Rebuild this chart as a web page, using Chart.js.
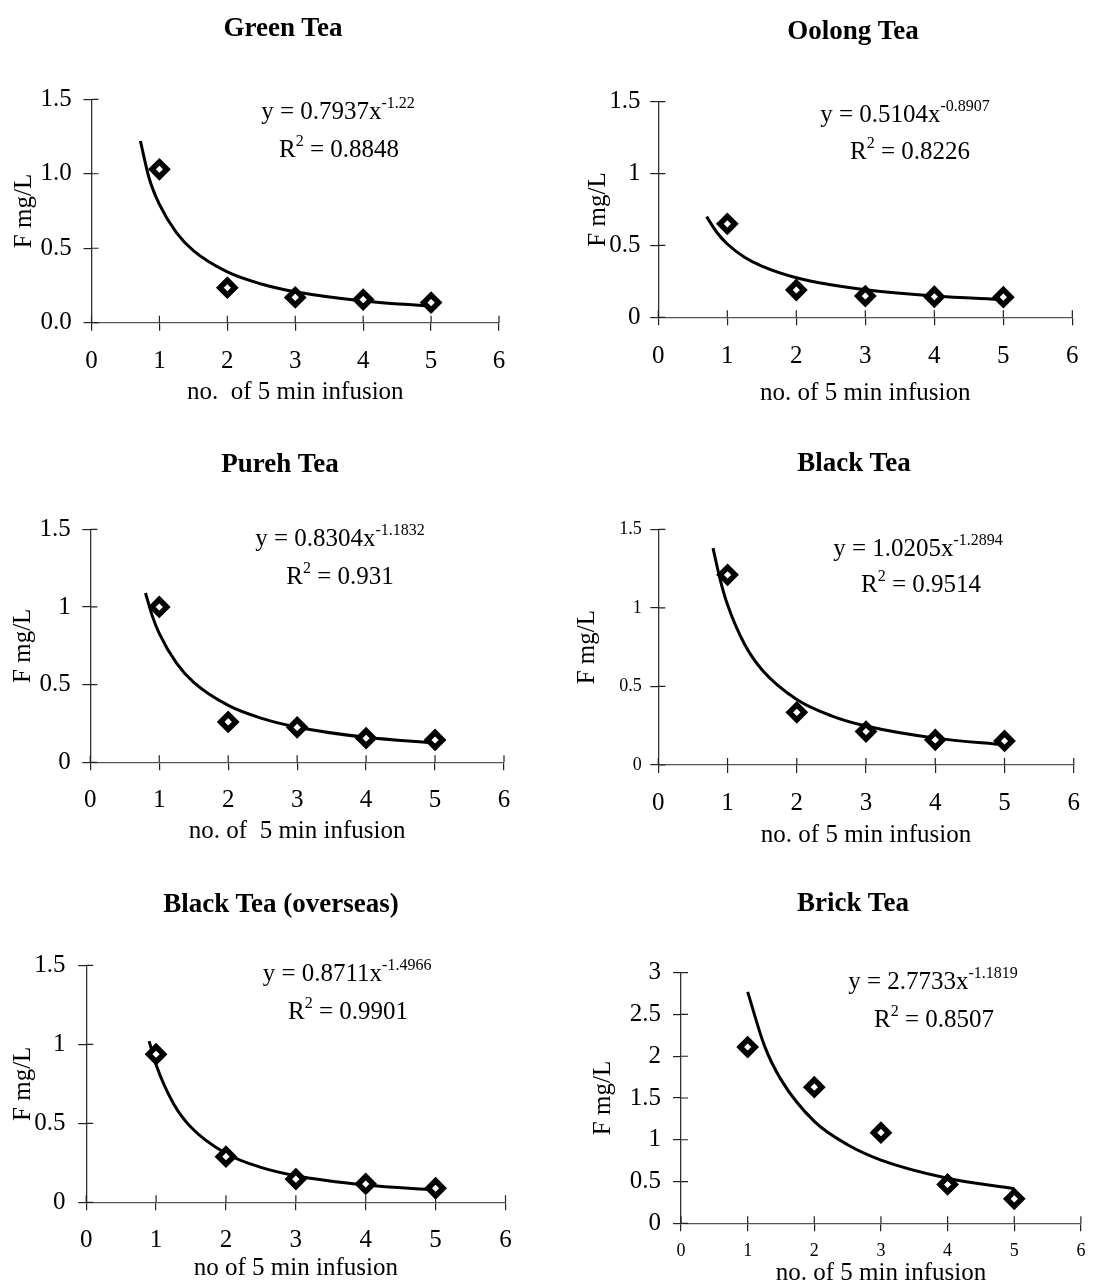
<!DOCTYPE html>
<html>
<head>
<meta charset="utf-8">
<script src="https://cdn.jsdelivr.net/npm/chart.js@4.4.1/dist/chart.umd.min.js"></script>
<style>
body { margin: 0; background: #fff; width: 1095px; height: 1288px; position: relative; overflow: hidden;
       font-family: "Liberation Serif", "Times New Roman", serif; color: #000; }
canvas { position: absolute; }
.txt { position: absolute; transform: translate(-50%, -50%); white-space: nowrap; line-height: 1; }
.title { font-weight: bold; font-size: 27px; }
.eq { font-size: 25px; }
.sup { font-size: 16px; position: relative; top: -11px; }
</style>
</head>
<body>
<script>
// x axis ticks and infusion number of each measured point
const xTicks = [0, 1, 2, 3, 4, 5, 6];
const infusions = [1, 2, 3, 4, 5];

// measured F (mg/L) per infusion
const greenTea = [1.03, 0.235, 0.17, 0.155, 0.135];
const oolongTea = [0.65, 0.19, 0.148, 0.143, 0.14];
const purehTea = [1.0, 0.26, 0.225, 0.155, 0.144];
const blackTea = [1.21, 0.335, 0.213, 0.16, 0.153];
const blackOverseas = [0.937, 0.289, 0.147, 0.116, 0.089];
const brickTea = [2.11, 1.63, 1.085, 0.465, 0.293];

// power trend lines
const greenFitX = [0.72, 0.85, 1, 1.25, 1.5, 2, 2.5, 3, 4, 5];
const greenFitY = [1.22, 0.968, 0.794, 0.605, 0.484, 0.341, 0.26, 0.208, 0.146, 0.111];
const oolongFitX = [0.7, 0.85, 1, 1.25, 1.5, 2, 2.5, 3, 4, 5];
const oolongFitY = [0.70, 0.59, 0.51, 0.418, 0.356, 0.275, 0.226, 0.192, 0.148, 0.122];
const purehFitX = [0.8, 0.9, 1, 1.25, 1.5, 2, 2.5, 3, 4, 5];
const purehFitY = [1.09, 0.941, 0.83, 0.638, 0.514, 0.366, 0.281, 0.226, 0.161, 0.124];
const blackFitX = [0.79, 0.9, 1, 1.25, 1.5, 2, 2.5, 3, 4, 5];
const blackFitY = [1.38, 1.169, 1.02, 0.765, 0.605, 0.417, 0.313, 0.248, 0.171, 0.128];
const overseasFitX = [0.9, 1, 1.25, 1.5, 2, 2.5, 3, 4, 5];
const overseasFitY = [1.02, 0.871, 0.624, 0.475, 0.309, 0.221, 0.168, 0.109, 0.078];
const brickFitX = [1, 1.25, 1.5, 2, 2.5, 3, 4, 5];
const brickFitY = [2.77, 2.13, 1.72, 1.22, 0.94, 0.757, 0.539, 0.414];

// y ticks
const yTicksLow = [0, 0.5, 1, 1.5];
const yTicksBrick = [0, 0.5, 1, 1.5, 2, 2.5, 3];

const titles = ['Green Tea', 'Oolong Tea', 'Pureh Tea', 'Black Tea', 'Black Tea (overseas)', 'Brick Tea'];
const coefs = ['0.7937', '0.5104', '0.8304', '1.0205', '0.8711', '2.7733'];
const powers = ['-1.22', '-0.8907', '-1.1832', '-1.2894', '-1.4966', '-1.1819'];
const rSquared = ['0.8848', '0.8226', '0.931', '0.9514', '0.9901', '0.8507'];
const xTitles = ['no.  of 5 min infusion', 'no. of 5 min infusion', 'no. of  5 min infusion',
                 'no. of 5 min infusion', 'no of 5 min infusion', 'no. of 5 min infusion'];
const yTitle = 'F mg/L';

const series = [greenTea, oolongTea, purehTea, blackTea, blackOverseas, brickTea];
const fitX = [greenFitX, oolongFitX, purehFitX, blackFitX, overseasFitX, brickFitX];
const fitY = [greenFitY, oolongFitY, purehFitY, blackFitY, overseasFitY, brickFitY];
const yTicks = [yTicksLow, yTicksLow, yTicksLow, yTicksLow, yTicksLow, yTicksBrick];

// page geometry of each panel
const layouts = [
  { box: {x: 0, y: 0, w: 548, h: 425}, area: {L: 91.5, R: 499, T: 99.3, B: 322.7}, yFont: 25, xFont: 25, fixed: true,
    yTickRight: 71.7, xTickY: 361.7, yTitleX: 24, xTitleY: 392, title: [283, 27], eq: [338, 110], r2: [339, 148] },
  { box: {x: 548, y: 0, w: 547, h: 425}, area: {L: 658.3, R: 1080.5, T: 101.7, B: 317.3}, yFont: 25, xFont: 25,
    yTickRight: 640.5, xTickY: 356.7, yTitleX: 598, xTitleY: 393, title: [853, 30], eq: [905, 113], r2: [910, 150] },
  { box: {x: 0, y: 425, w: 548, h: 440}, area: {L: 90.3, R: 504, T: 529.3, B: 762.3}, yFont: 25, xFont: 25,
    yTickRight: 70.7, xTickY: 800, yTitleX: 23, xTitleY: 831.7, title: [280, 463], eq: [340, 536.7], r2: [340, 575] },
  { box: {x: 548, y: 425, w: 547, h: 440}, area: {L: 658.3, R: 1088, T: 529.3, B: 765}, yFont: 18, xFont: 25,
    yTickRight: 641.7, xTickY: 803, yTitleX: 587, xTitleY: 835, title: [854, 461.7], eq: [918, 546.7], r2: [921, 583.3] },
  { box: {x: 0, y: 865, w: 548, h: 423}, area: {L: 86.2, R: 505.5, T: 965.3, B: 1202.3}, yFont: 25, xFont: 25,
    yTickRight: 65.5, xTickY: 1240, yTitleX: 23, xTitleY: 1268, title: [281, 903], eq: [347, 971.7], r2: [348, 1010] },
  { box: {x: 548, y: 865, w: 547, h: 423}, area: {L: 681, R: 1089, T: 972.7, B: 1223.3}, yFont: 25, xFont: 18,
    yTickRight: 661, xTickY: 1251.7, yTitleX: 603, xTitleY: 1273, title: [853, 901.7], eq: [933, 980], r2: [934, 1018.3] }
];

const serif = '"Liberation Serif", "Times New Roman", serif';
const TL = 8;

// small ticks that cross into the plot, like the original axes
const crossTicks = {
  id: 'crossTicks',
  beforeDatasetsDraw(chart) {
    const {ctx, chartArea: a, scales: {x, y}} = chart;
    ctx.save();
    ctx.strokeStyle = '#222';
    ctx.lineWidth = 1.2;
    ctx.beginPath();
    x.ticks.forEach(t => { const px = x.getPixelForValue(t.value); ctx.moveTo(px, a.bottom); ctx.lineTo(px, a.bottom - 7); });
    y.ticks.forEach(t => { const py = y.getPixelForValue(t.value); ctx.moveTo(a.left, py); ctx.lineTo(a.left + 7, py); });
    ctx.stroke();
    ctx.restore();
  }
};

function addText(cls, pos, html) {
  const d = document.createElement('div');
  d.className = 'txt ' + cls;
  d.style.left = pos[0] + 'px';
  d.style.top = pos[1] + 'px';
  d.innerHTML = html;
  document.body.appendChild(d);
}

function makePanel(i) {
  const g = layouts[i];
  const cv = document.createElement('canvas');
  cv.width = g.box.w;
  cv.height = g.box.h;
  cv.style.left = g.box.x + 'px';
  cv.style.top = g.box.y + 'px';
  document.body.appendChild(cv);

  const ticks = yTicks[i];
  new Chart(cv, {
    type: 'scatter',
    data: {
      datasets: [
        {
          data: infusions.map((x, k) => ({x: x, y: series[i][k]})),
          pointStyle: 'rectRot',
          pointRadius: 7.5,
          pointBorderWidth: 5.5,
          pointBorderColor: '#000',
          pointBackgroundColor: '#fff'
        },
        {
          data: fitX[i].map((x, k) => ({x: x, y: fitY[i][k]})),
          showLine: true,
          pointRadius: 0,
          borderColor: '#000',
          borderWidth: 3,
          cubicInterpolationMode: 'monotone',
          fill: false
        }
      ]
    },
    options: {
      responsive: false,
      animation: false,
      events: [],
      layout: { padding: { left: 0, top: g.area.T - g.box.y, right: g.box.x + g.box.w - g.area.R, bottom: 0 } },
      plugins: { legend: { display: false }, tooltip: { enabled: false } },
      scales: {
        x: {
          type: 'linear', min: 0, max: 6,
          afterBuildTicks: s => { s.ticks = xTicks.map(v => ({value: v})); },
          afterFit: s => { s.height = g.box.y + g.box.h - g.area.B; },
          grid: { drawOnChartArea: false, tickLength: TL, color: '#222', lineWidth: 1.2 },
          border: { color: '#555', width: 1.3 },
          ticks: { color: '#000', font: { family: serif, size: g.xFont },
                   padding: g.xTickY - g.area.B - TL - g.xFont * 0.6, maxRotation: 0 },
          title: { display: true, text: xTitles[i], color: '#000', font: { family: serif, size: 25 },
                   padding: { top: 0, bottom: g.box.y + g.box.h - g.xTitleY - 15 } }
        },
        y: {
          min: 0, max: ticks[ticks.length - 1],
          afterBuildTicks: s => { s.ticks = ticks.map(v => ({value: v})); },
          afterFit: s => { s.width = g.area.L - g.box.x; },
          grid: { drawOnChartArea: false, tickLength: TL, color: '#222', lineWidth: 1.2 },
          border: { color: '#333', width: 1.3 },
          ticks: { color: '#000', font: { family: serif, size: g.yFont },
                   padding: g.area.L - TL - g.yTickRight,
                   callback: v => g.fixed ? v.toFixed(1) : String(v) },
          title: { display: true, text: yTitle, color: '#000', font: { family: serif, size: 25 },
                   padding: { top: g.yTitleX - g.box.x - 15, bottom: 0 } }
        }
      }
    },
    plugins: [crossTicks]
  });

  addText('title', g.title, titles[i]);
  addText('eq', g.eq, 'y = ' + coefs[i] + 'x<span class="sup">' + powers[i] + '</span>');
  addText('eq', g.r2, 'R<span class="sup">2</span> = ' + rSquared[i]);
}

for (let i = 0; i < layouts.length; i++) makePanel(i);
</script>
</body>
</html>
